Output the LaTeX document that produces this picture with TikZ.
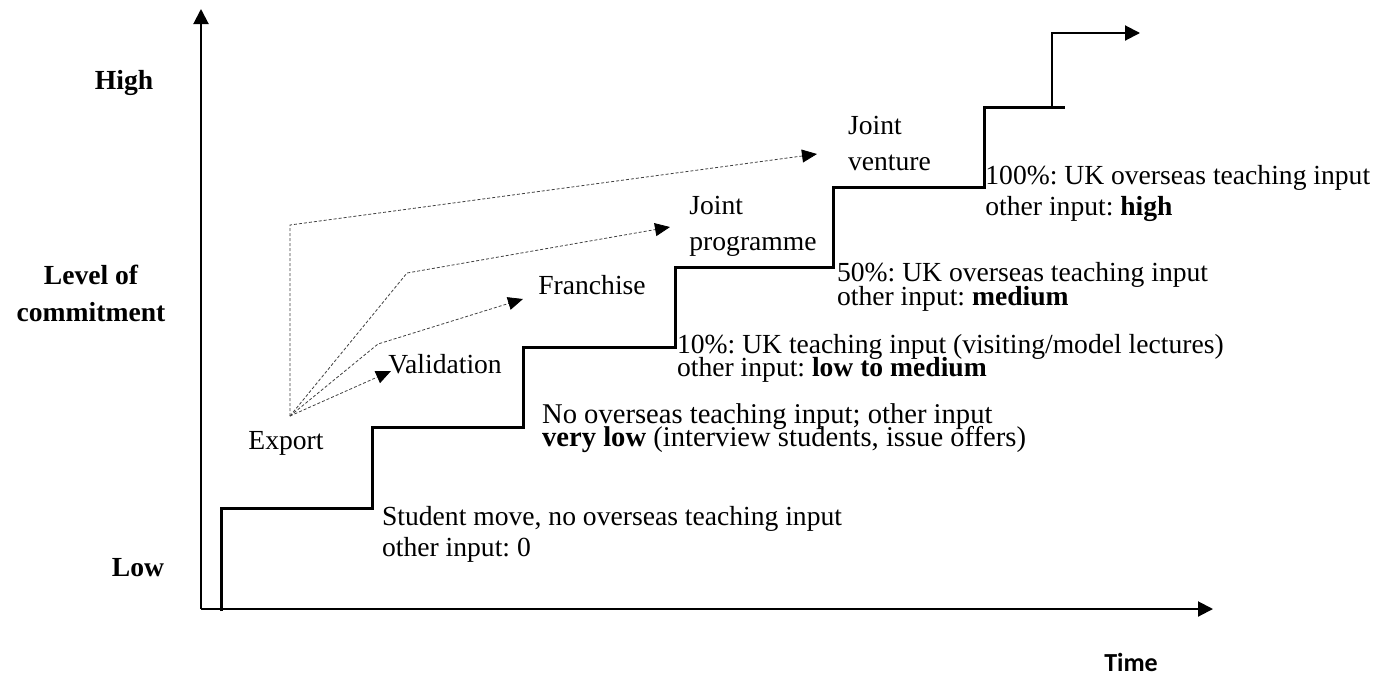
\documentclass[tikz,border=0pt]{standalone}
\usepackage{fontspec}
\setmainfont{Liberation Serif}
\newfontfamily\timefont{Carlito}
\usetikzlibrary{arrows.meta}
\setlength{\lineskiplimit}{-20pt}
\frenchspacing

\begin{document}
\begin{tikzpicture}[x=0.5pt, y=-0.5pt,
  txt/.style={inner sep=0pt, font=\fontsize{13.8}{16}\selectfont},
  lbl/.style={inner sep=0pt, align=center, font=\fontsize{13.8}{18.5}\selectfont\bfseries},
  note/.style={inner sep=0pt, anchor=north west, align=left,
    font=\fontsize{13.8}{#1}\selectfont},
  axis/.style={line width=1pt, -{Triangle[length=7.5pt,width=7.5pt]}},
  stair/.style={line width=1.5pt},
  route/.style={line width=0.4pt, black!75, dash pattern=on 1.5pt off 1pt,
    -{Triangle[length=7.5pt,width=6.5pt,black]}}]

  \useasboundingbox (0,0) rectangle (1380,675);

  % Axes:
  \coordinate (origin) at (201,609);
  \coordinate (ytip) at (201,9);
  \coordinate (xtip) at (1213,609);
  \draw[axis] (origin) -- (ytip);
  \draw[axis] (origin) -- (xtip);

  % Axis labels:
  \node[lbl] (high) at (124,83) {High};
  \node[lbl] (level) at (91,293) {Level of\\commitment};
  \node[lbl] (low) at (138,568) {Low};
  \node[inner sep=0pt, font=\timefont\bfseries\fontsize{13}{15}\selectfont] (time) at (1131,662) {Time};

  % Staircase:
  \draw[stair] (221,611) -- (221,508) -- (372,508) -- (372,427) -- (523,427)
    -- (523,347) -- (675,347) -- (675,267) -- (833,267) -- (833,187)
    -- (984,187) -- (984,107) -- (1065,107);
  \draw[axis] (1052,107) -- (1052,33) -- (1140,33);

  % Steps:
  \node[note=15.5pt] (student) at (381.7,505.5) {Student move, no overseas teaching input\\other input: 0};
  \node[note=11.5pt, font=\fontsize{14.3}{11.5}\selectfont] (nooverseas) at (541.7,403) {No overseas teaching input; other input\\\textbf{very low} (interview students, issue offers)};
  \node[note=11.5pt] (ten) at (676.7,333.5) {10\%: UK teaching input (visiting/model lectures)\\other input: \textbf{low to medium}};
  \node[note=11.8pt] (fifty) at (836.7,262) {50\%: UK overseas teaching input\\other input: \textbf{medium}};
  \node[note=15.5pt] (hundred) at (985,164.5) {100\%: UK overseas teaching input\\other input: \textbf{high}};

  % Modes:
  \node[txt] (export) at (286,443) {Export};
  \node[txt] (valid) at (445,364) {Validation};
  \node[txt] (franch) at (592,285) {Franchise};
  \node[note=18.3pt] (jprog) at (689,195.5) {Joint\\programme};
  \node[note=18.3pt] (jvent) at (847.7,115.5) {Joint\\venture};

  % Routes:
  \coordinate (exp) at (290,416);
  \coordinate (tovalid) at (391,371);
  \coordinate (tofranch) at (523,299);
  \coordinate (toprog) at (670,227);
  \coordinate (tovent) at (817,154);
  \draw[route] (exp) -- (tovalid);
  \draw[route] (exp) -- (378,344) -- (tofranch);
  \draw[route] (exp) -- (407,273) -- (toprog);
  \draw[route] (exp) -- (290,225) -- (tovent);

\end{tikzpicture}
\end{document}
